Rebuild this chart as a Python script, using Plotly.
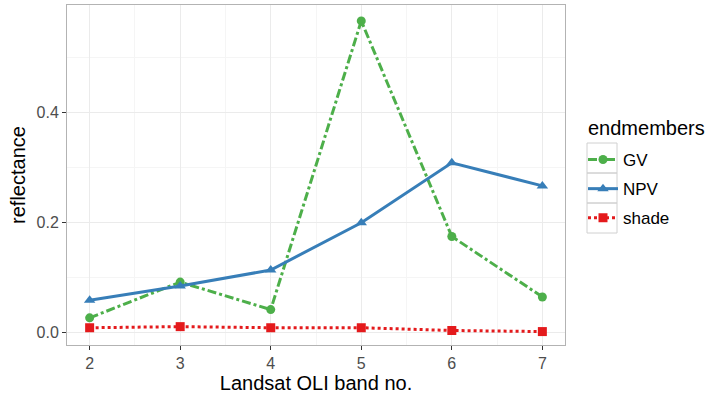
import plotly.graph_objects as go

bands = [2, 3, 4, 5, 6, 7]
gv = [0.027, 0.092, 0.042, 0.567, 0.175, 0.065]
npv = [0.059, 0.085, 0.114, 0.200, 0.309, 0.267]
shade = [0.009, 0.011, 0.009, 0.009, 0.004, 0.002]

FONT = "Liberation Sans, Arial, sans-serif"

fig = go.Figure()
fig.add_trace(go.Scatter(x=bands, y=gv, name="GV", mode="lines+markers", legendgroup="a",
                         line=dict(color="#4DAF4A", width=3, dash="dashdot"),
                         marker=dict(symbol="circle", size=9, color="#4DAF4A")))
fig.add_trace(go.Scatter(x=bands, y=npv, name="NPV", mode="lines+markers", legendgroup="b",
                         line=dict(color="#377EB8", width=3),
                         marker=dict(symbol="triangle-up", size=10, color="#377EB8")))
fig.add_trace(go.Scatter(x=bands, y=shade, name="shade", mode="lines+markers", legendgroup="c",
                         line=dict(color="#E41A1C", width=3, dash="dot"),
                         marker=dict(symbol="square", size=9, color="#E41A1C")))

axis_common = dict(showline=True, linecolor="#b3b3b3", mirror=True, linewidth=1,
                   ticks="outside", tickcolor="#333333", ticklen=4, tickwidth=1,
                   gridcolor="#ebebeb", gridwidth=1, zeroline=False,
                   tickfont=dict(family=FONT, size=16, color="#4d4d4d"))

fig.update_xaxes(range=[1.75, 7.25], tickvals=bands, **axis_common,
                 minor=dict(tickvals=[2.5, 3.5, 4.5, 5.5, 6.5], showgrid=True, gridcolor="#f5f5f5", ticks=""),
                 title=dict(text="Landsat OLI band no.", font=dict(family=FONT, size=20, color="black"), standoff=3))
fig.update_yaxes(range=[-0.0224, 0.596], tickvals=[0.0, 0.2, 0.4], ticktext=["0.0", "0.2", "0.4"], **axis_common,
                 minor=dict(tickvals=[0.1, 0.3, 0.5], showgrid=True, gridcolor="#f5f5f5", ticks=""),
                 title=dict(text="reflectance", font=dict(family=FONT, size=20, color="black"), standoff=5))

# legend key boxes (ggplot style)
shapes = []
box_px = [(143, 173), (173, 203), (203, 233)]
for top, bot in box_px:
    shapes.append(dict(type="rect", xref="paper", yref="paper",
                       x0=(587 - 67) / 498, x1=(617 - 67) / 498,
                       y0=(345 - bot) / 340, y1=(345 - top) / 340,
                       line=dict(color="#d0d0d0", width=1), fillcolor="rgba(0,0,0,0)", layer="below"))

fig.update_layout(
    width=713, height=400,
    margin=dict(l=67, r=148, t=5, b=55),
    plot_bgcolor="white", paper_bgcolor="white",
    font=dict(family=FONT),
    shapes=shapes,
    annotations=[dict(text="endmembers", xref="paper", yref="paper",
                      x=(586 - 67) / 498, y=(345 - 128) / 340, xanchor="left", yanchor="middle",
                      showarrow=False, font=dict(family=FONT, size=20, color="black"))],
    legend=dict(font=dict(size=17, color="black", family=FONT),
                x=(583 - 67) / 498, y=(345 - 142) / 340, xanchor="left", yanchor="top",
                itemwidth=30, tracegroupgap=4, bgcolor="rgba(0,0,0,0)"),
)

fig.write_html("out.html")
